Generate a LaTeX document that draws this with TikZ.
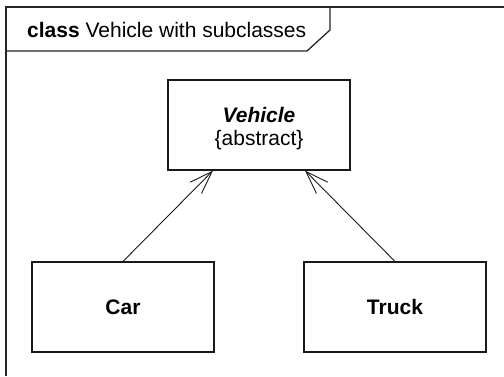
\documentclass[tikz,border=0pt]{standalone}
\usepackage{fontspec}
\setmainfont{Liberation Sans}
\usetikzlibrary{arrows.meta}
\begin{document}
\begin{tikzpicture}[x=1pt,y=-1pt,
  classbox/.style={draw=black!90,line width=1.1pt,minimum width=182pt,minimum height=90pt,inner sep=0pt,font=\fontsize{21}{24}\selectfont\bfseries},
  lbl/.style={inner sep=0pt,font=\fontsize{21}{24}\selectfont},
  framestyle/.style={draw=black!85,line width=1.3pt},
  gen/.style={draw=black!90,line width=0.9pt,-{Straight Barb[length=23pt,width=16pt,line width=0.9pt]}}]
\useasboundingbox (0,0) rectangle (504,376);
% frame
\draw[framestyle] (6,376) -- (6,7) -- (504,7);
\draw[framestyle] (330,7) -- (330,30) -- (307,51) -- (6,51);
\node[lbl,anchor=base west] (title) at (27,37) {\textbf{class} Vehicle with subclasses};
% classes
\node[classbox] (vehicle) at (259,125) {};
\node[lbl,anchor=base] (vname) at (259,122) {\textbf{\textit{Vehicle}}};
\node[lbl,anchor=base] (vabs) at (259,145) {\{abstract\}};
\node[classbox] (car) at (123,307) {Car};
\node[classbox] (truck) at (395,307) {Truck};
% generalizations
\draw[gen] (car.north) -- ([xshift=-46pt]vehicle.south);
\draw[gen] (truck.north) -- ([xshift=46pt]vehicle.south);
\end{tikzpicture}
\end{document}
